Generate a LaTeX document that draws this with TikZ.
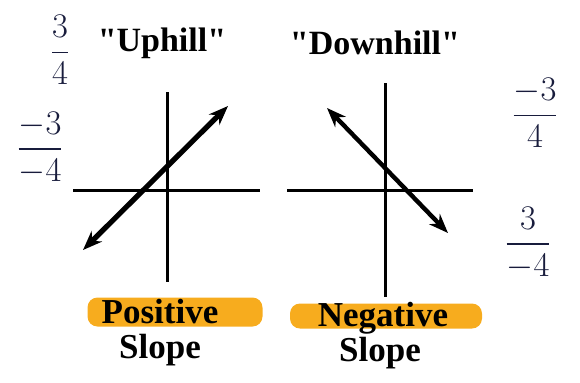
\documentclass[tikz,border=0pt]{standalone}
\usepackage{fontspec}
\setmainfont{Liberation Serif}
\newfontfamily\titlefont{Liberation Serif}[Ligatures=ResetAll]
\usepackage{amsmath}
\usepackage{xcolor}
\usepackage{tikz}
\usetikzlibrary{arrows.meta, positioning, backgrounds}
\definecolor{inkblue}{RGB}{24,28,60}
\definecolor{marker}{RGB}{247,172,30}

\begin{document}
\begin{tikzpicture}[
  x=0.5pt, y=-0.5pt,
  >={Stealth[length=3.4mm, width=2.6mm]},
  axis/.style={line width=1.5pt, black},
  slopeline/.style={<->, line width=2.2pt, black},
  title/.style={font=\titlefont\fontsize{17}{20}\selectfont\bfseries, inner sep=0pt},
  hl/.style={fill=marker, rounded corners=5pt, inner sep=0pt},
  lab/.style={font=\fontsize{17.5}{20}\selectfont\bfseries, inner sep=0pt},
  hand/.style={text=inkblue, font=\fontsize{18}{20}\selectfont, inner sep=0pt}
]
\useasboundingbox (0,0) rectangle (580,382);

% left graph: uphill
\coordinate (lxl) at (73,190);
\coordinate (lxr) at (260,190);
\coordinate (lyt) at (167,92);
\coordinate (lyb) at (167,282);
\draw[axis] (lxl) -- (lxr);
\draw[axis] (lyt) -- (lyb);
\coordinate (upa) at (83,250);
\coordinate (upb) at (228,106);
\draw[slopeline, line width=2.6pt] (upa) -- (upb);

% right graph: downhill
\coordinate (rxl) at (287,190);
\coordinate (rxr) at (473,190);
\coordinate (ryt) at (385,83);
\coordinate (ryb) at (385,297);
\draw[axis] (rxl) -- (rxr);
\draw[axis] (ryt) -- (ryb);
\coordinate (dna) at (327,108);
\coordinate (dnb) at (448,233);
\draw[slopeline] (dna) -- (dnb);

% titles
\node[title] (uptitle) at (162,43) {"Uphill"};
\node[title] (dntitle) at (375,43) {"Downhill"};

% highlighted labels
\node[hl, minimum width=87.5pt, minimum height=14.5pt] (poshl) at (175,312) {};
\node[hl, minimum width=96pt, minimum height=12.5pt] (neghl) at (386,316) {};
\node[lab] (pos) at (160,312) {Positive};
\node[lab] (posslope) at (160,350) {Slope};
\node[lab] (neg) at (383,318) {Negative};
\node[lab] (negslope) at (380,353) {Slope};

% handwritten fractions
\node[hand] (fupa) at (60,50) {$\dfrac{3}{4}$};
\node[hand] (fupb) at (40,148) {$\dfrac{-3}{-4}$};
\node[hand] (fdna) at (535,113) {$\dfrac{-3}{4}$};
\node[hand] (fdnb) at (528,243) {$\dfrac{3}{-4}$};
\end{tikzpicture}
\end{document}
